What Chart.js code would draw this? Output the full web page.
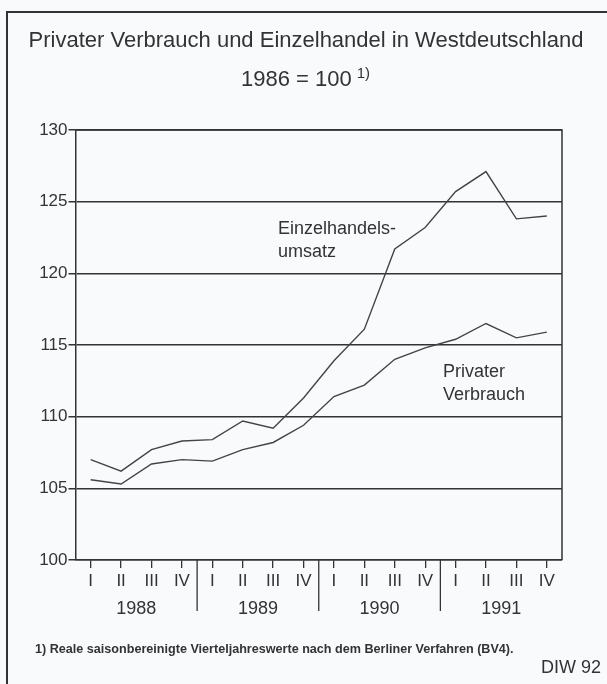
<!DOCTYPE html>
<html>
<head>
<meta charset="utf-8">
<script src="https://cdn.jsdelivr.net/npm/chart.js@4/dist/chart.umd.min.js"></script>
<style>
  body { margin: 0; background: #f8fafb; }
  #wrap { width: 607px; height: 684px; }
</style>
</head>
<body>
<div id="wrap"><canvas id="chart" width="607" height="684"></canvas></div>
<script>
// Quartale und Jahre
const quarters = ['I', 'II', 'III', 'IV'];
const years = ['1988', '1989', '1990', '1991'];

// Index 1986 = 100
const einzelhandel = [107.0, 106.2, 107.7, 108.3, 108.4, 109.7, 109.2, 111.3,
                      113.9, 116.1, 121.7, 123.2, 125.7, 127.1, 123.8, 124.0];
const verbrauch = [105.6, 105.3, 106.7, 107.0, 106.9, 107.7, 108.2, 109.4,
                   111.4, 112.2, 114.0, 114.8, 115.4, 116.5, 115.5, 115.9];

const yTicks = [100, 105, 110, 115, 120, 125, 130];

const labels = years.flatMap(() => quarters);
const FONT = '"Liberation Sans", Arial, sans-serif';
const INK = '#333';

// frame, titles, year labels and notes
const decor = {
  id: 'decor',
  afterDraw(chart) {
    const ctx = chart.ctx;
    const area = chart.chartArea;
    const x = chart.scales.x;
    ctx.save();
    ctx.strokeStyle = INK;
    ctx.fillStyle = INK;

    // outer frame (left and top)
    ctx.lineWidth = 2;
    ctx.beginPath();
    ctx.moveTo(7, 684);
    ctx.lineTo(7, 12);
    ctx.lineTo(607, 12);
    ctx.stroke();

    // plot box top and right
    ctx.lineWidth = 1.5;
    ctx.beginPath();
    ctx.moveTo(area.left, area.top);
    ctx.lineTo(area.right, area.top);
    ctx.lineTo(area.right, area.bottom);
    ctx.stroke();

    // title
    ctx.textAlign = 'center';
    ctx.textBaseline = 'middle';
    ctx.font = '22px ' + FONT;
    ctx.fillText('Privater Verbrauch und Einzelhandel in Westdeutschland', 306, 41);
    ctx.font = '22px ' + FONT;
    ctx.textAlign = 'left';
    const sub = '1986 = 100';
    ctx.fillText(sub, 241, 80);
    const w = ctx.measureText(sub).width;
    ctx.font = '15px ' + FONT;
    ctx.fillText('1)', 241 + w + 5, 74);

    // year separators and year labels
    ctx.lineWidth = 1.3;
    years.forEach((yr, i) => {
      const first = x.getPixelForValue(i * 4);
      const last = x.getPixelForValue(i * 4 + 3);
      if (i < years.length - 1) {
        const sep = (last + x.getPixelForValue(i * 4 + 4)) / 2;
        ctx.beginPath();
        ctx.moveTo(sep, area.bottom);
        ctx.lineTo(sep, 611);
        ctx.stroke();
      }
      ctx.font = '18px ' + FONT;
      ctx.textAlign = 'center';
      ctx.fillText(yr, (first + last) / 2, 609);
    });

    // series labels
    ctx.font = '18px ' + FONT;
    ctx.textAlign = 'left';
    ctx.fillText('Einzelhandels-', 278, 229);
    ctx.fillText('umsatz', 278, 252);
    ctx.fillText('Privater', 443, 372);
    ctx.fillText('Verbrauch', 443, 395);

    // footnote and source
    ctx.font = 'bold 12.6px ' + FONT;
    ctx.fillText('1) Reale saisonbereinigte Vierteljahreswerte nach dem Berliner Verfahren (BV4).', 35, 650);
    ctx.font = '18px ' + FONT;
    ctx.textAlign = 'right';
    ctx.fillText('DIW 92', 601, 668);
    ctx.restore();
  }
};

new Chart(document.getElementById('chart'), {
  type: 'line',
  data: {
    labels: labels,
    datasets: [{
      label: 'Einzelhandelsumsatz',
      data: einzelhandel,
      borderColor: '#444',
      borderWidth: 1.4,
      pointRadius: 0,
      tension: 0,
      fill: false
    }, {
      label: 'Privater Verbrauch',
      data: verbrauch,
      borderColor: '#444',
      borderWidth: 1.4,
      pointRadius: 0,
      tension: 0,
      fill: false
    }]
  },
  options: {
    responsive: false,
    animation: false,
    layout: { padding: { left: 0.5, right: 45, top: 130, bottom: 0 } },
    plugins: {
      legend: { display: false },
      tooltip: { enabled: false },
      title: { display: false }
    },
    scales: {
      x: {
        offset: true,
        afterFit: (s) => { s.height = 124; },
        grid: {
          drawOnChartArea: false,
          offset: false,
          tickLength: 8,
          color: INK,
          lineWidth: 1.3
        },
        border: { color: INK, width: 1.5 },
        ticks: {
          autoSkip: false,
          maxRotation: 0,
          padding: 3,
          color: INK,
          font: { family: FONT, size: 17 }
        }
      },
      y: {
        min: 100,
        max: 130,
        afterFit: (s) => { s.width = 75; },
        afterBuildTicks: (s) => { s.ticks = yTicks.map(v => ({ value: v })); },
        grid: {
          color: INK,
          lineWidth: 1.5,
          tickLength: 7
        },
        border: { color: INK, width: 1.5 },
        ticks: {
          padding: 1,
          color: INK,
          font: { family: FONT, size: 17 }
        }
      }
    }
  },
  plugins: [decor]
});
</script>
</body>
</html>
